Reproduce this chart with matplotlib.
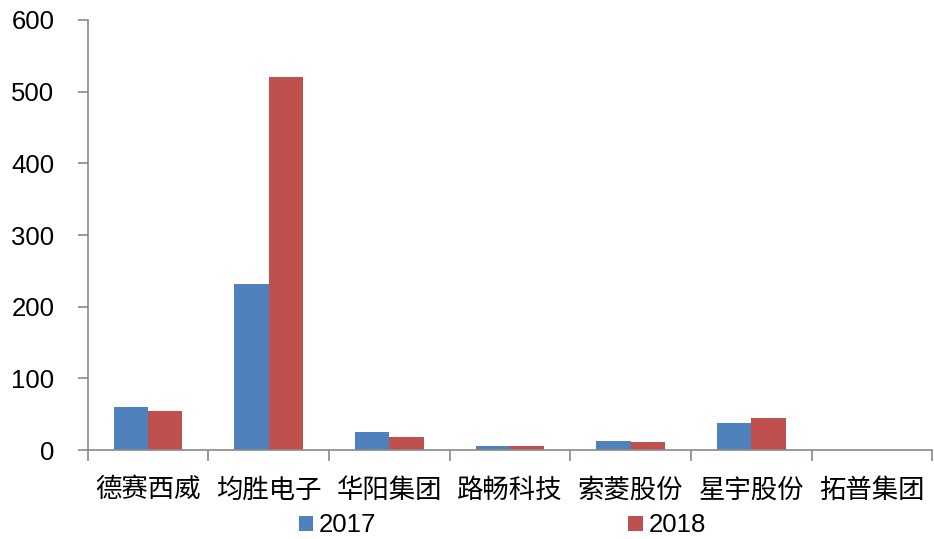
import numpy as np
import matplotlib.pyplot as plt
from matplotlib.ticker import FixedLocator

categories = ['德赛西威', '均胜电子', '华阳集团', '路畅科技', '索菱股份', '星宇股份', '拓普集团']
v2017 = [60, 231, 25, 6, 12, 38, 0]
v2018 = [54, 521, 18, 5, 11, 45, 0]

blue = '#4f81bd'
red = '#c0504d'
axis_gray = '#898989'

fig = plt.figure(figsize=(9.34, 5.39), dpi=100)
ax = fig.add_axes([0.094, 0.165, 0.904, 0.798])

x = np.arange(len(categories))
w = 0.285
ax.bar(x - w / 2, v2017, w, color=blue, label='2017')
ax.bar(x + w / 2, v2018, w, color=red, label='2018')

ax.set_xlim(-0.5, len(categories) - 0.5)
ax.set_ylim(0, 600)
ax.set_yticks(range(0, 601, 100))
ax.tick_params(axis='y', labelsize=18.5, length=7, color=axis_gray, width=1.2, pad=17)
for t in ax.get_yticklabels():
    t.set_fontfamily('Liberation Sans')

ax.set_xticks(x)
ax.set_xticklabels(categories, fontfamily=['Noto Sans CJK SC', 'DejaVu Sans'], fontsize=19)
ax.tick_params(axis='x', which='major', length=0, pad=19)
ax.xaxis.set_minor_locator(FixedLocator(np.arange(-0.5, len(categories), 1)))
ax.tick_params(axis='x', which='minor', length=8, color=axis_gray, width=1.2)

for s in ['top', 'right']:
    ax.spines[s].set_visible(False)
for s in ['left', 'bottom']:
    ax.spines[s].set_color(axis_gray)
    ax.spines[s].set_linewidth(1.2)

fig.legend(loc='lower center', bbox_to_anchor=(0.538, -0.04), ncol=2, frameon=False,
           prop={'family': 'Liberation Sans', 'size': 18.5}, handlelength=0.55,
           handleheight=0.55, handletextpad=0.25, columnspacing=9.8)

fig.savefig('out.png', dpi=100)
